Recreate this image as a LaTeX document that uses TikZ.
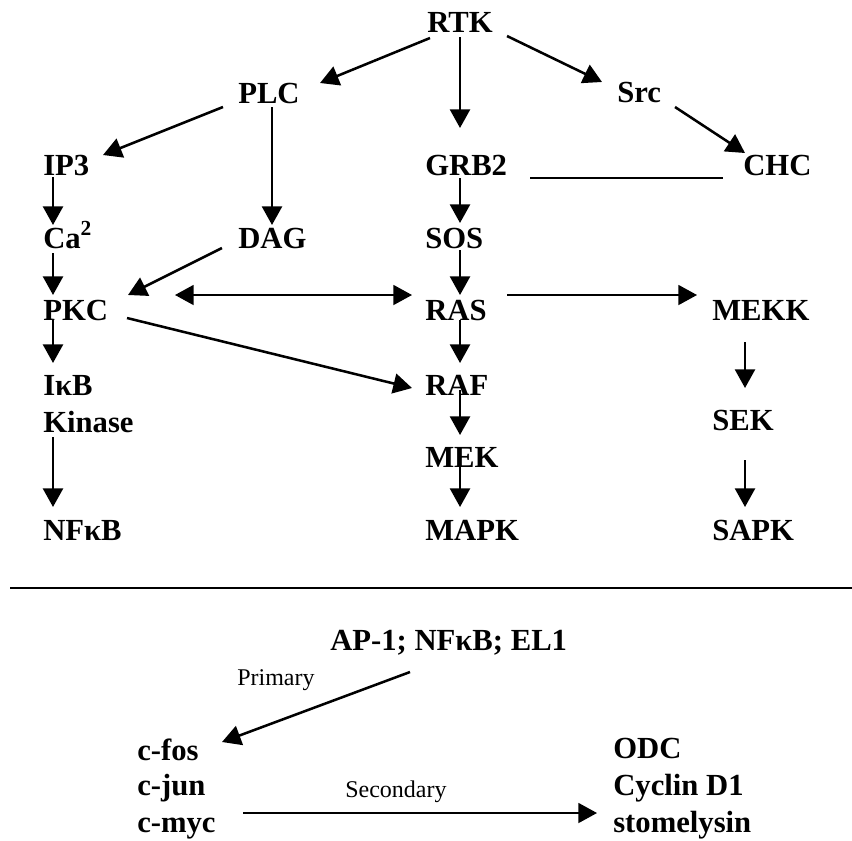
\documentclass[tikz,border=0pt]{standalone}
\usepackage{fontspec}
\setmainfont{Liberation Serif}
\usetikzlibrary{arrows.meta, positioning}

\begin{document}
\begin{tikzpicture}[x=0.75pt, y=-0.75pt,
		lbl/.style={anchor=base west, inner sep=0pt, font=\bfseries\fontsize{23}{28}\selectfont},
		note/.style={anchor=base west, inner sep=0pt, font=\fontsize{18}{20}\selectfont},
		arr/.style={-{Triangle[length=14pt,width=15pt]}, line width=1.9pt},
		thinarr/.style={arr, line width=1.3pt},
		dblarr/.style={{Triangle[length=14pt,width=15pt]}-{Triangle[length=14pt,width=15pt]}, line width=1.3pt}]
			\useasboundingbox (0,0) rectangle (852,840);
			\node[lbl] (RTK) at (427,32) {RTK};
			\node[lbl] (PLC) at (238,103) {PLC};
			\node[lbl] (Src) at (617,102) {Src};
			\node[lbl] (IP3) at (43,175) {IP3};
			\node[lbl] (GRB2) at (425,175) {GRB2};
			\node[lbl] (CHC) at (743,175) {CHC};
			\node[lbl] (Ca) at (43,248) {Ca\textsuperscript{2}};
			\node[lbl] (DAG) at (238,248) {DAG};
			\node[lbl] (SOS) at (425,248) {SOS};
			\node[lbl] (PKC) at (43,320) {PKC};
			\node[lbl] (RAS) at (425,320) {RAS};
			\node[lbl] (MEKK) at (712,320) {MEKK};
			\node[lbl] (IkB) at (43,395) {IκB};
			\node[lbl] (Kin) at (43,432) {Kinase};
			\node[lbl] (RAF) at (425,395) {RAF};
			\node[lbl] (SEK) at (712,430) {SEK};
			\node[lbl] (MEK) at (425,467) {MEK};
			\node[lbl] (NFkB) at (43,540) {NFκB};
			\node[lbl] (MAPK) at (425,540) {MAPK};
			\node[lbl] (SAPK) at (712,540) {SAPK};
			\draw[arr] ([shift={(3,6)}]RTK.base west) -- ([shift={(82,-20)}]PLC.base west);
			\draw[arr] ([shift={(33,5)}]RTK.base west) -- ([shift={(35,-47)}]GRB2.base west);
			\draw[arr] ([shift={(80,4)}]RTK.base west) -- ([shift={(-15,-20)}]Src.base west);
			\draw[arr] ([shift={(-15,4)}]PLC.base west) -- ([shift={(60,-20)}]IP3.base west);
			\draw[arr] ([shift={(34,4)}]PLC.base west) -- ([shift={(34,-23)}]DAG.base west);
			\draw[arr] ([shift={(58,5)}]Src.base west) -- ([shift={(2,-22)}]CHC.base west);
			\draw[line width=1.2pt] ([shift={(105,3)}]GRB2.base west) -- ([shift={(-20,3)}]CHC.base west);
			\draw[arr] ([shift={(10,2)}]IP3.base west) -- ([shift={(10,-23)}]Ca.base west);
			\draw[arr] ([shift={(35,3)}]GRB2.base west) -- ([shift={(35,-25)}]SOS.base west);
			\draw[arr] ([shift={(10,5)}]Ca.base west) -- ([shift={(10,-25)}]PKC.base west);
			\draw[arr] ([shift={(-16,0)}]DAG.base west) -- ([shift={(85,-25)}]PKC.base west);
			\draw[arr] ([shift={(35,2)}]SOS.base west) -- ([shift={(35,-25)}]RAS.base west);
			\draw[dblarr] ([shift={(132,-25)}]PKC.base west) -- ([shift={(-13,-25)}]RAS.base west);
			\draw[thinarr] ([shift={(82,-25)}]RAS.base west) -- ([shift={(-15,-25)}]MEKK.base west);
			\draw[arr] ([shift={(10,0)}]PKC.base west) -- ([shift={(10,-32)}]IkB.base west);
			\draw[arr] ([shift={(84,-2)}]PKC.base west) -- ([shift={(-13,-7)}]RAF.base west);
			\draw[arr] ([shift={(35,0)}]RAS.base west) -- ([shift={(35,-32)}]RAF.base west);
			\draw[arr] ([shift={(33,22)}]MEKK.base west) -- ([shift={(33,-42)}]SEK.base west);
			\draw[arr] ([shift={(35,-5)}]RAF.base west) -- ([shift={(35,-32)}]MEK.base west);
			\draw[arr] ([shift={(10,5)}]Kin.base west) -- ([shift={(10,-33)}]NFkB.base west);
			\draw[arr] ([shift={(35,0)}]MEK.base west) -- ([shift={(35,-33)}]MAPK.base west);
			\draw[arr] ([shift={(33,30)}]SEK.base west) -- ([shift={(33,-33)}]SAPK.base west);
			\draw[line width=2.2pt] (10,588) -- (852,588);
			\node[lbl] (AP) at (330,650) {AP-1; NFκB; EL1};
			\node[note] (Prim) at (237,685) {Primary};
			\node[lbl] (fos) at (137,760) {c-fos};
			\node[lbl] (jun) at (137,795) {c-jun};
			\node[lbl] (myc) at (137,832) {c-myc};
			\node[note] (Sec) at (345,797) {Secondary};
			\node[lbl] (ODC) at (613,758) {ODC};
			\node[lbl] (cyc) at (613,795) {Cyclin D1};
			\node[lbl] (sto) at (613,832) {stomelysin};
			\draw[arr] ([shift={(80,22)}]AP.base west) -- ([shift={(85,-18)}]fos.base west);
			\draw[thinarr] ([shift={(106,-19)}]myc.base west) -- ([shift={(-16,-19)}]sto.base west);
		\end{tikzpicture}
\end{document}
